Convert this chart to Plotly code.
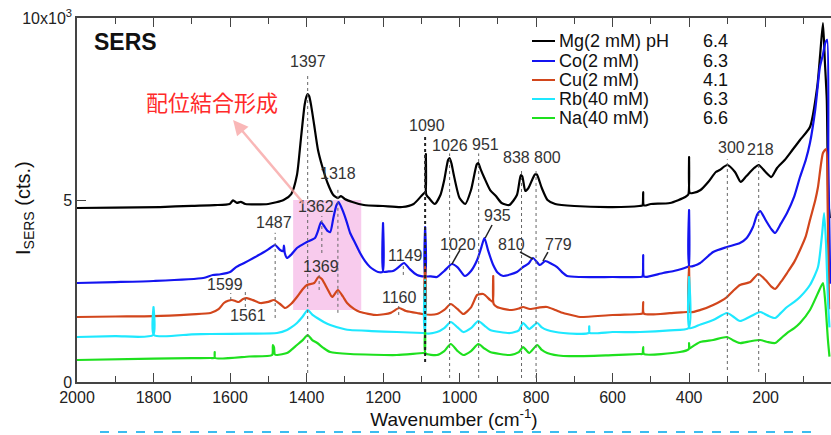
import plotly.graph_objects as go

# ---------------- data (wavenumber cm-1, intensity counts) ----------------
mg = [(2000,4780),(1900,4790),(1783,4807),(1700,4840),(1640,4860),(1601,4890),(1592,4990),(1582,4920),
      (1572,4950),(1560,4890),(1500,4890),(1460,5000),(1440,5164),(1425,5686),(1415,6648),(1405,7609),
      (1400,7850),(1397,7911),(1393,7850),(1388,7600),(1380,7060),(1370,6373),(1360,5961),(1345,5467),
      (1330,5137),(1318,5054),(1310,5109),(1300,5027),(1280,4945),(1250,4862),(1200,4835),(1150,4807),
      (1120,4890),(1100,5109),(1092,5192),(1089,5200),(1088,6263),(1087,5150),(1080,5054),(1065,4890),
      (1050,5137),(1040,5549),(1030,6100),(1026,6153),(1021,6000),(1015,5686),(1000,5054),(985,4890),
      (970,5274),(955,5980),(951,6016),(945,5850),(935,5604),(920,5274),(905,5109),(890,4917),(870,4862),
      (850,5137),(840,5680),(836,5650),(828,5247),(820,5329),(803,5700),(798,5700),(785,5329),(770,5000),
      (750,4890),(700,4835),(600,4807),(530,4835),(522,4850),(520,5219),(518,4850),(500,4890),(450,4917),
      (410,5082),(402,5150),(400,6181),(398,5190),(390,5192),(370,5274),(350,5494),(330,5769),(320,5824),
      (300,5961),(280,5769),(265,5494),(250,5659),(230,5879),(218,5961),(200,5769),(185,5631),(170,5879),
      (150,6098),(130,6373),(110,6648),(84,7005),(65,8104),(57,9038),(50,9862),(45,8800),(40,7747),
      (36,5000),(32,4500)]

co = [(2000,2720),(1900,2745),(1800,2775),(1670,2857),(1645,2940),(1625,2960),(1600,3022),(1585,3150),
      (1563,3269),(1540,3400),(1511,3571),(1495,3680),(1482,3764),(1469,3626),(1461,3600),(1459,3750),
      (1457,3550),(1451,3407),(1440,3500),(1425,3681),(1410,3780),(1399,3846),(1378,3956),(1370,4150),
      (1362,4395),(1355,4300),(1345,4150),(1338,4120),(1330,4500),(1322,4850),(1316,4945),(1305,4700),
      (1295,4400),(1286,4093),(1272,3800),(1260,3544),(1247,3320),(1234,3159),(1213,3022),(1201,3030),
      (1200,4368),(1199,3030),(1185,3040),(1174,3049),(1160,3150),(1145,3269),(1130,3100),(1111,2939),
      (1091,2912),(1090,4258),(1089,2912),(1075,2900),(1059,2884),(1040,3050),(1020,3241),(1005,3150),
      (986,2912),(970,3050),(954,3351),(943,3700),(935,3956),(925,3600),(912,3214),(900,3000),(886,2912),
      (850,3022),(834,3159),(820,3250),(808,3407),(790,3214),(776,3324),(760,3250),(745,3159),(730,3000),
      (719,2912),(685,2884),(600,2884),(528,2884),(522,2900),(520,3489),(518,2900),(510,2890),(468,2994),
      (440,3050),(405,3159),(401,3180),(400,4725),(399,3180),(385,3200),(371,3269),(337,3571),(301,3708),
      (267,3818),(250,3950),(233,4258),(222,4600),(214,4697),(200,4450),(185,4200),(175,4093),(160,4350),
      (144,4642),(125,5100),(110,5631),(95,6100),(84,6565),(70,7500),(58,8653),(50,9000),(44,9312),
      (39,9400),(36,6000),(31,2700)]

cu = [(2000,1786),(1900,1800),(1800,1810),(1700,1860),(1651,1895),(1630,2000),(1616,2170),(1605,2230),
      (1595,2253),(1585,2220),(1577,2198),(1566,2280),(1556,2307),(1540,2250),(1521,2170),(1500,2200),
      (1485,2253),(1470,2150),(1456,2033),(1440,2150),(1425,2335),(1410,2550),(1399,2665),(1380,2720),
      (1369,2884),(1360,2830),(1345,2550),(1333,2335),(1318,2527),(1305,2350),(1294,2170),(1275,2000),
      (1260,1923),(1216,1840),(1180,1900),(1158,2033),(1140,1950),(1111,1895),(1091,1870),(1090,3159),
      (1089,1870),(1059,1868),(1040,1980),(1023,2143),(1005,2000),(990,1868),(970,2050),(954,2390),
      (938,2417),(920,2253),(913,2200),(912,2912),(911,2150),(902,2060),(868,1978),(845,2020),(834,2060),
      (816,2005),(790,2050),(771,2060),(750,1980),(729,1895),(700,1820),(685,1786),(600,1840),(528,1868),
      (522,1880),(520,2198),(518,1880),(450,1890),(405,1923),(401,1923),(400,3159),(399,1923),(370,1980),
      (337,2115),(301,2335),(285,2500),(267,2665),(240,2747),(219,2967),(200,2800),(185,2620),(175,2555),
      (160,2750),(144,2994),(125,3300),(110,3626),(95,4000),(84,4450),(70,5000),(63,5357),(50,6291),
      (42,6400),(38,5000),(34,2000)]

rb = [(2000,1236),(1900,1260),(1801,1291),(1800,2060),(1799,1291),(1700,1310),(1651,1318),(1550,1330),
      (1477,1346),(1451,1428),(1440,1500),(1425,1621),(1410,1800),(1397,1978),(1385,1850),(1372,1758),
      (1355,1650),(1338,1566),(1300,1450),(1286,1428),(1230,1400),(1164,1373),(1095,1346),(1091,1346),
      (1090,2802),(1089,1346),(1059,1373),(1040,1480),(1023,1648),(1005,1500),(990,1373),(970,1480),
      (951,1676),(935,1550),(920,1428),(868,1346),(845,1420),(834,1621),(818,1456),(797,1621),(785,1500),
      (771,1428),(729,1346),(662,1350),(661,1530),(660,1350),(600,1373),(528,1373),(450,1420),(401,1483),
      (400,2884),(399,1483),(370,1580),(337,1703),(301,1895),(285,1800),(267,1676),(240,1800),(214,1923),
      (195,1830),(175,1758),(160,1900),(144,2060),(125,2200),(110,2335),(84,2665),(63,3159),(52,4093),
      (47,4642),(42,3800),(37,2253),(33,1500)]

na = [(2000,604),(1800,640),(1700,655),(1651,659),(1641,660),(1640,824),(1639,660),(1550,700),(1490,740),
      (1488,1016),(1485,950),(1483,760),(1477,742),(1451,797),(1440,880),(1425,1016),(1410,1150),
      (1397,1291),(1385,1150),(1372,1071),(1355,930),(1338,824),(1286,769),(1164,742),(1095,797),
      (1091,790),(1090,1428),(1089,790),(1059,742),(1040,850),(1023,1044),(1005,850),(990,742),(970,850),
      (951,1044),(935,920),(920,824),(868,742),(845,820),(834,961),(818,797),(797,1016),(785,880),
      (771,797),(729,714),(600,740),(528,769),(522,770),(520,961),(518,770),(424,824),(401,900),
      (400,1071),(399,920),(397,934),(371,1099),(337,1154),(301,1236),(285,1150),(267,1071),(240,1120),
      (214,1154),(195,1100),(175,1071),(160,1200),(144,1346),(125,1480),(110,1621),(84,1978),(63,2445),
      (50,2720),(44,2200),(37,1154),(33,700)]

series_names = ["Mg(2 mM) pH", "Co(2 mM)", "Cu(2 mM)", "Rb(40 mM)", "Na(40 mM)"]
series_ph = ["6.4", "6.3", "4.1", "6.3", "6.6"]
series_data = [mg, co, cu, rb, na]
series_colors = ["#000000", "#1414f0", "#d2461c", "#1ee8ff", "#1ee01e"]

x_ticks = [2000, 1800, 1600, 1400, 1200, 1000, 800, 600, 400, 200]
y_ticks = [0, 5000, 10000]
y_ticktext = ["0", "5", "10x10<sup>3</sup>"]

# ---------------- figure ----------------
fig = go.Figure()
for name, pts, col in zip(series_names, series_data, series_colors):
    fig.add_trace(go.Scatter(x=[p[0] for p in pts], y=[p[1] for p in pts], mode="lines",
                             name=name, line=dict(color=col, width=2.2, shape="spline", smoothing=0.6),
                             showlegend=False))

L, R, T, B = 77, 0, 18, 53
W, H = 831, 435
pw, ph = W - L - R, H - T - B
def px(x): return (x - L) / pw
def py(y): return (H - B - y) / ph

shapes = []
annos = []

# pink highlight region
shapes.append(dict(type="rect", xref="x", yref="y", x0=1435, x1=1257, y0=1978, y1=5000,
                   fillcolor="rgba(245,175,228,0.65)", line=dict(width=0), layer="below"))

# dotted peak markers (x, y0, y1)
dotted = [(1397, 247, 8450), (1318, 1900, 5350), (1360, 3544, 4560), (1482, 1758, 4100),
          (1367, 2527, 2940), (1598, 2253, 2445), (1560, 2060, 2527), (1147, 2940, 3214),
          (1159, 1840, 2115), (1026, 110, 6280), (950, 110, 6280), (838, 110, 5879),
          (800, 110, 5879), (300, 330, 6120), (218, 275, 6060)]
for x, y0, y1 in dotted:
    shapes.append(dict(type="line", xref="x", yref="y", x0=x, x1=x, y0=y0, y1=y1,
                       line=dict(color="#666666", width=1, dash="dot")))
shapes.append(dict(type="line", xref="x", yref="y", x0=1090, x1=1090, y0=549, y1=6780,
                   line=dict(color="#222222", width=2, dash="dot")))

# leader lines
leaders = [(915, 4313, 933, 3956), (999, 3626, 1020, 3241), (842, 3571, 808, 3379), (769, 3571, 782, 3324)]
for x0, y0, x1, y1 in leaders:
    shapes.append(dict(type="line", xref="x", yref="y", x0=x0, x1=x1, y0=y0, y1=y1,
                       line=dict(color="#222222", width=1.5)))

# peak labels
peak_labels = [("1397", 1397, 8818), ("1318", 1318, 5741), ("1362", 1375, 4835), ("1487", 1485, 4375),
               ("1369", 1362, 3160), ("1599", 1613, 2665), ("1561", 1553, 1840), ("1149", 1142, 3489),
               ("1160", 1158, 2335), ("1090", 1085, 7060), ("1026", 1025, 6510), ("951", 931, 6538),
               ("838", 852, 6181), ("800", 769, 6181), ("300", 288, 6455), ("218", 212, 6400),
               ("935", 902, 4587), ("1020", 1004, 3791), ("810", 863, 3791), ("779", 742, 3791)]
for t, x, y in peak_labels:
    annos.append(dict(text=t, x=x, y=y, xref="x", yref="y", showarrow=False,
                      font=dict(size=16, color="#333333"), xanchor="center", yanchor="middle"))

# legend (manual)
rows = [41, 61, 80, 99, 118]
for name, phv, col, yy in zip(series_names, series_ph, series_colors, rows):
    shapes.append(dict(type="line", xref="paper", yref="paper", x0=px(532), x1=px(555),
                       y0=py(yy), y1=py(yy), line=dict(color=col, width=2)))
    annos.append(dict(text=name, x=px(557), y=py(yy), xref="paper", yref="paper", showarrow=False,
                      xanchor="left", yanchor="middle", font=dict(size=18, color="#111111")))
    annos.append(dict(text=phv, x=px(701), y=py(yy), xref="paper", yref="paper", showarrow=False,
                      xanchor="left", yanchor="middle", font=dict(size=18, color="#111111")))

# SERS label
annos.append(dict(text="<b>SERS</b>", x=px(92), y=py(42), xref="paper", yref="paper", showarrow=False,
                  xanchor="left", yanchor="middle", font=dict(size=23, color="#111111")))
# Japanese label
annos.append(dict(text="配位結合形成", x=px(212), y=py(101), xref="paper", yref="paper", showarrow=False,
                  xanchor="center", yanchor="middle",
                  font=dict(size=22, color="#ff2a2a", family="Noto Sans CJK JP")))
# pink arrow
annos.append(dict(text="", x=1592, y=7197, ax=1404, ay=4862, xref="x", yref="y", axref="x", ayref="y",
                  showarrow=True, arrowhead=2, arrowsize=1.2, arrowwidth=2.5,
                  arrowcolor="rgba(248,160,160,0.75)"))
# y-axis title
annos.append(dict(text="I<sub>SERS</sub> (cts.)", x=px(25), y=py(208), xref="paper", yref="paper",
                  showarrow=False, textangle=-90, xanchor="center", yanchor="middle",
                  font=dict(size=20, color="#111111")))

# dashed blue line at bottom
shapes.append(dict(type="line", xref="paper", yref="paper", x0=px(100), x1=px(812), y0=py(432), y1=py(432),
                   line=dict(color="#3cbcf0", width=2, dash="dash")))

axcol = "#444444"
fig.update_layout(
    width=W, height=H, margin=dict(l=L, r=R, t=T, b=B),
    paper_bgcolor="white", plot_bgcolor="white",
    font=dict(family="Liberation Sans, Arial, sans-serif", color="#222222"),
    shapes=shapes, annotations=annos,
    xaxis=dict(range=[2000, 29], tickmode="array", tickvals=x_ticks, ticks="inside", ticklen=9,
               tickwidth=1.3, tickcolor=axcol, showline=True, linecolor=axcol, linewidth=1.5,
               mirror="ticks", showgrid=False, zeroline=False,
               minor=dict(tick0=0, dtick=100, ticks="inside", ticklen=6, tickcolor=axcol, tickwidth=1.2),
               tickfont=dict(size=16, color="#222222"),
               title=dict(text="Wavenumber (cm<sup>-1</sup>)", font=dict(size=19, color="#111111"), standoff=2),
               automargin=False),
    yaxis=dict(range=[0, 10000], tickmode="array", tickvals=y_ticks, ticktext=y_ticktext, ticks="inside",
               ticklen=9, tickwidth=1.3, tickcolor=axcol, showline=True, linecolor=axcol, linewidth=1.5,
               mirror=False, showgrid=False, zeroline=False, tickfont=dict(size=16, color="#222222"),
               automargin=False),
)

fig.write_html("out.html")
